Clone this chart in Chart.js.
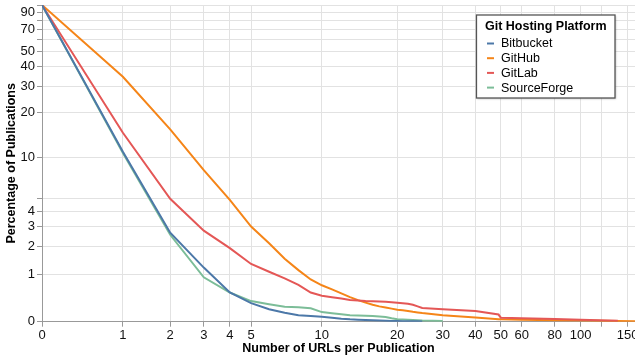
<!DOCTYPE html>
<html>
<head>
<meta charset="utf-8">
<script src="https://cdn.jsdelivr.net/npm/chart.js@4/dist/chart.umd.min.js"></script>
<style>
  html, body { margin: 0; padding: 0; background: #fff; overflow: hidden; }
  canvas { display: block; }
</style>
</head>
<body>
<canvas id="chart" width="635" height="358"></canvas>
<script>
// Number of URLs per publication (x) and share of publications (%) with at least that many URLs
const urlCounts = [0, 1, 2, 3, 4, 5, 6, 7, 8, 9, 10, 11, 12, 13, 14, 15, 16, 17, 18, 19, 20,
                   21, 22, 23, 24, 25, 30, 40, 49, 50, 60, 80, 100, 138, 160];

const bitbucket = [100, 10.9, 2.66, 1.2, 0.53, 0.31, 0.2, 0.14, 0.1, 0.085, 0.075, 0.06, 0.045, 0.035, 0.03,
                   0.025, 0.02, 0.016, 0.013, 0.011, 0.009, 0.008, 0.007, 0.006, 0.005, 0.004,
                   null, null, null, null, null, null, null, null, null];

const github = [100, 34.5, 15.5, 8.1, 4.9, 3.0, 2.14, 1.5, 1.12, 0.85, 0.7, 0.6, 0.51, 0.43, 0.37,
                0.32, 0.28, 0.25, 0.23, 0.21, 0.19, 0.18, 0.17, 0.155, 0.145, 0.135,
                0.1, 0.065, 0.037, 0.035, 0.03, 0.022, 0.016, 0.011, 0.008];

const gitlab = [100, 14.7, 5.0, 2.77, 1.92, 1.32, 1.07, 0.88, 0.71, 0.53, 0.46, 0.43, 0.4, 0.37, 0.36,
                0.35, 0.345, 0.34, 0.335, 0.33, 0.32, 0.31, 0.3, 0.28, 0.25, 0.22,
                0.2, 0.17, 0.11, 0.06, 0.05, 0.04, 0.03, 0.015, null];

const sourceforge = [100, 10.7, 2.55, 0.91, 0.53, 0.35, 0.29, 0.245, 0.235, 0.215, 0.15, 0.13, 0.115, 0.1, 0.095,
                     0.09, 0.085, 0.078, 0.07, 0.05, 0.038, 0.034, 0.03, 0.026, 0.022, 0.018,
                     0.01, null, null, null, null, null, null, null, null];

const platforms = ['Bitbucket', 'GitHub', 'GitLab', 'SourceForge'];
const platformValues = [bitbucket, github, gitlab, sourceforge];

const xTicks = [0, 1, 2, 3, 4, 5, 10, 20, 30, 40, 50, 60, 80, 100, 120, 150];
const xUnlabeled = [120];
const yTicks = [0, 1, 2, 3, 4, 5, 10, 20, 30, 40, 50, 60, 70, 80, 90, 100];
const yUnlabeled = [5, 60, 80, 100];

// Styling
const FONT = '"Liberation Sans", Arial, Helvetica, sans-serif';
const lineColors = ['#4c78a8', '#f58518', '#e45756', '#7cbd98'];
const drawOrder = [0, 2, 1, 3]; // lower = drawn on top
const legendTitle = 'Git Hosting Platform';

// Symmetric log scale: t = log(1 + v)
class SymlogScale extends Chart.LinearScale {
  configure() {
    super.configure();
    this._tStart = Math.log1p(this.min);
    this._tRange = Math.log1p(this.max) - this._tStart;
  }
  getPixelForValue(value) {
    if (value === null || value === undefined || isNaN(value)) return NaN;
    return this.getPixelForDecimal((Math.log1p(value) - this._tStart) / this._tRange);
  }
  getValueForPixel(pixel) {
    return Math.expm1(this._tStart + this.getDecimalForPixel(pixel) * this._tRange);
  }
}
SymlogScale.id = 'symlog';
SymlogScale.defaults = {};
Chart.register(SymlogScale);

// Legend box drawn inside the plot, top-right
const platformLegend = {
  id: 'platformLegend',
  afterDraw(chart) {
    const { ctx, chartArea } = chart;
    const titleFont = 'bold 12.5px ' + FONT;
    const labelFont = '12.5px ' + FONT;
    ctx.save();
    ctx.font = titleFont;
    const titleW = ctx.measureText(legendTitle).width;
    ctx.font = labelFont;
    let labelW = 0;
    chart.data.datasets.forEach(d => { labelW = Math.max(labelW, 14 + ctx.measureText(d.label).width); });
    const padX = 8.5;
    const w = Math.max(titleW, labelW) + padX * 2;
    const h = 83;
    const right = chartArea.right - 20;
    const top = chartArea.top + 10;
    const left = right - w;

    ctx.shadowColor = 'rgba(0,0,0,0.25)';
    ctx.shadowBlur = 2;
    ctx.shadowOffsetX = 1;
    ctx.shadowOffsetY = 1;
    ctx.fillStyle = '#fff';
    ctx.fillRect(left, top, w, h);
    ctx.shadowColor = 'transparent';
    ctx.strokeStyle = '#555';
    ctx.lineWidth = 1.3;
    ctx.strokeRect(left, top, w, h);

    ctx.textBaseline = 'middle';
    ctx.textAlign = 'left';
    ctx.fillStyle = '#000';
    ctx.font = titleFont;
    ctx.fillText(legendTitle, left + padX, top + 12);

    ctx.font = labelFont;
    chart.data.datasets.forEach((d, i) => {
      const y = top + 28.5 + i * 14.7;
      ctx.strokeStyle = d.borderColor;
      ctx.lineWidth = 2;
      ctx.beginPath();
      ctx.moveTo(left + padX + 2, y);
      ctx.lineTo(left + padX + 9, y);
      ctx.stroke();
      ctx.fillStyle = '#000';
      ctx.fillText(d.label, left + padX + 16, y + 0.5);
    });
    ctx.restore();
  }
};

const datasets = platforms.map((name, i) => ({
  label: name,
  data: urlCounts.map((x, j) => ({ x: x, y: platformValues[i][j] })).filter(p => p.y !== null),
  borderColor: lineColors[i],
  backgroundColor: lineColors[i],
  borderWidth: 2,
  pointRadius: 0,
  tension: 0,
  fill: false,
  order: drawOrder[i]
}));

new Chart(document.getElementById('chart'), {
  type: 'line',
  data: { datasets },
  plugins: [platformLegend],
  options: {
    responsive: false,
    animation: false,
    devicePixelRatio: 1,
    layout: { padding: { top: 5, left: 0, right: 0, bottom: 0 } },
    plugins: { legend: { display: false }, tooltip: { enabled: false } },
    scales: {
      x: {
        type: 'symlog',
        position: 'bottom',
        min: 0,
        max: 160,
        afterBuildTicks: s => { s.ticks = xTicks.map(v => ({ value: v })); },
        afterFit: s => { s.height = 36.3; s.paddingLeft = 0; s.paddingRight = 0; },
        ticks: {
          autoSkip: false, maxRotation: 0, padding: 1, color: '#111',
          font: { family: FONT, size: 13 },
          callback: v => xUnlabeled.includes(v) ? '' : String(v)
        },
        grid: { color: '#e2e2e2', tickColor: '#999', tickLength: 5, lineWidth: 1 },
        border: { color: '#999', width: 1 },
        title: {
          display: true, text: 'Number of URLs per Publication', color: '#000',
          font: { family: FONT, size: 12.5, weight: 'bold' },
          padding: { top: 0, bottom: 1.5 }
        }
      },
      y: {
        type: 'symlog',
        position: 'left',
        min: 0,
        max: 100,
        afterBuildTicks: s => { s.ticks = yTicks.map(v => ({ value: v })); },
        afterFit: s => { s.width = 42; s.paddingTop = 0; s.paddingBottom = 0; },
        ticks: {
          autoSkip: false, padding: 2, color: '#111',
          font: { family: FONT, size: 13 },
          callback: v => yUnlabeled.includes(v) ? '' : String(v)
        },
        grid: { color: '#e2e2e2', tickColor: '#999', tickLength: 5, lineWidth: 1 },
        border: { color: '#999', width: 1 },
        title: {
          display: true, text: 'Percentage of Publications', color: '#000',
          font: { family: FONT, size: 12.5, weight: 'bold' },
          padding: { top: 4.5, bottom: 0 }
        }
      }
    }
  }
});
</script>
</body>
</html>
